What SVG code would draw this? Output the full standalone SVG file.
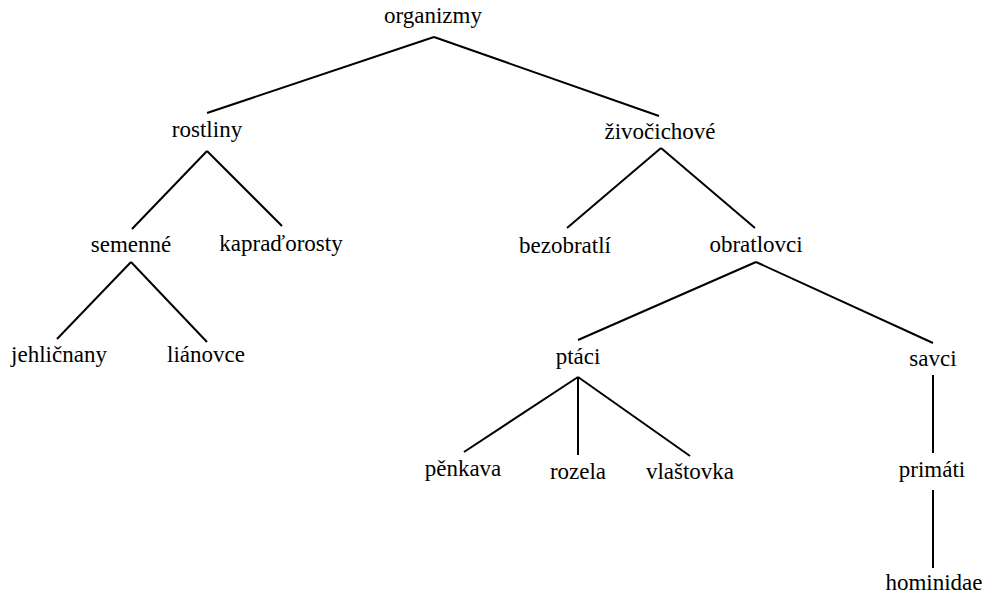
<svg xmlns="http://www.w3.org/2000/svg" width="992" height="594" viewBox="0 0 992 594">
  <style>
    .lbl { font-size: 23px; fill: #000; text-anchor: middle; }
    .edge { stroke: #000; stroke-width: 2; fill: none; stroke-linecap: butt; }
  </style>
  <rect width="992" height="594" fill="#fff"/>

  <!-- tree edges -->
  <g id="edges">
    <line class="edge" x1="434" y1="37" x2="207" y2="113"/>
    <line class="edge" x1="434" y1="37" x2="659" y2="116"/>
    <line class="edge" x1="207" y1="151" x2="132" y2="229"/>
    <line class="edge" x1="207" y1="151" x2="282" y2="226"/>
    <line class="edge" x1="131" y1="262" x2="57" y2="339"/>
    <line class="edge" x1="131" y1="262" x2="207" y2="342"/>
    <line class="edge" x1="661" y1="148" x2="567" y2="228"/>
    <line class="edge" x1="661" y1="148" x2="755" y2="228"/>
    <line class="edge" x1="756" y1="262" x2="578" y2="340"/>
    <line class="edge" x1="756" y1="262" x2="933" y2="343"/>
    <line class="edge" x1="578" y1="377" x2="464" y2="452"/>
    <line class="edge" x1="578" y1="377" x2="578" y2="455"/>
    <line class="edge" x1="578" y1="377" x2="690" y2="456"/>
    <line class="edge" x1="933" y1="375" x2="933" y2="453"/>
    <line class="edge" x1="933" y1="490" x2="933" y2="568"/>
  </g>

  <!-- tree nodes -->
  <g font-family="'Liberation Serif', 'DejaVu Serif', serif">
    <g id="organizmy"><text class="lbl" x="433" y="23">organizmy</text></g>
    <g id="rostliny"><text class="lbl" x="207" y="137">rostliny</text></g>
    <g id="zivocichove"><text class="lbl" x="660" y="139">živočichové</text></g>
    <g id="semenne"><text class="lbl" x="131" y="252">semenné</text></g>
    <g id="kapradorosty"><text class="lbl" x="281" y="251">kapraďorosty</text></g>
    <g id="bezobratli"><text class="lbl" x="565" y="253">bezobratlí</text></g>
    <g id="obratlovci"><text class="lbl" x="756" y="252">obratlovci</text></g>
    <g id="jehlicnany"><text class="lbl" x="59" y="362">jehličnany</text></g>
    <g id="lianovce"><text class="lbl" x="206" y="362">liánovce</text></g>
    <g id="ptaci"><text class="lbl" x="578" y="364">ptáci</text></g>
    <g id="savci"><text class="lbl" x="933" y="366">savci</text></g>
    <g id="penkava"><text class="lbl" x="463" y="476">pěnkava</text></g>
    <g id="rozela"><text class="lbl" x="578" y="479">rozela</text></g>
    <g id="vlastovka"><text class="lbl" x="690" y="479">vlaštovka</text></g>
    <g id="primati"><text class="lbl" x="932" y="477">primáti</text></g>
    <g id="hominidae"><text class="lbl" x="934" y="590">hominidae</text></g>
  </g>
</svg>
